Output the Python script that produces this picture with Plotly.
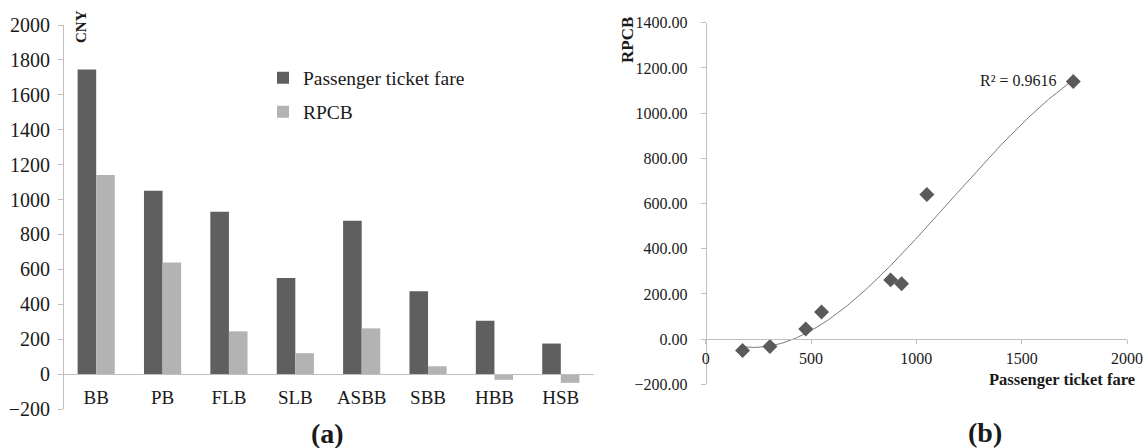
import numpy as np
import plotly.graph_objects as go

categories = ["BB", "PB", "FLB", "SLB", "ASBB", "SBB", "HBB", "HSB"]
fare = [1745, 1050, 930, 550, 878, 475, 305, 175]
rpcb = [1140, 640, 245, 120, 262, 45, -33, -50]
left_ticks = list(range(-200, 2001, 200))
right_yticks = list(range(-200, 1401, 200))
right_xticks = [0, 500, 1000, 1500, 2000]
r2_label = "R² = 0.9616"

W, H = 1148, 448
FONT = "Liberation Serif, Times New Roman, serif"
DARK = "#5f5f5f"
LIGHT = "#b3b3b3"
AX = "#bfbfbf"
TXT = "#1a1a1a"

def px_x(p):
    return p / W

def px_y(p):
    return 1 - p / H

fig = go.Figure()

fig.add_trace(go.Bar(x=categories, y=fare, name="Passenger ticket fare",
                     marker=dict(color=DARK, line=dict(width=0)),
                     xaxis="x", yaxis="y", legend="legend"))
fig.add_trace(go.Bar(x=categories, y=rpcb, name="RPCB",
                     marker=dict(color=LIGHT, line=dict(width=0)),
                     xaxis="x", yaxis="y", legend="legend2"))

# third-order polynomial trendline fitted to the data (as in the source chart)
coef = np.polyfit(fare, rpcb, 3)
xs = np.linspace(min(fare), max(fare), 200)
ys = np.polyval(coef, xs)
fig.add_trace(go.Scatter(x=xs, y=ys, mode="lines", line=dict(color="#7a7a7a", width=1),
                         xaxis="x2", yaxis="y2", showlegend=False))
fig.add_trace(go.Scatter(x=fare, y=rpcb, mode="markers",
                         marker=dict(symbol="diamond", size=11.5, color="#5a5a5a"),
                         xaxis="x2", yaxis="y2", showlegend=False))

y1_dom = [px_y(409), px_y(25)]
y1_zero = y1_dom[0] + (200 / 2200) * (y1_dom[1] - y1_dom[0])
y2_dom = [px_y(384.3), px_y(22.7)]
y2_zero = y2_dom[0] + (200 / 1600) * (y2_dom[1] - y2_dom[0])

fig.update_layout(
    width=W, height=H,
    margin=dict(l=0, r=0, t=0, b=0, autoexpand=False),
    paper_bgcolor="white", plot_bgcolor="white",
    font=dict(family=FONT, color=TXT),
    barmode="group", bargap=0.44, bargroupgap=0,
    xaxis=dict(domain=[px_x(63), px_x(594)], anchor="free", position=y1_zero,
               range=[-0.5, 7.5], showline=True, linecolor=AX, linewidth=1,
               ticks="", tickfont=dict(size=19, family=FONT, color=TXT),
               ticklabelstandoff=6, showgrid=False, zeroline=False, automargin=False),
    yaxis=dict(domain=y1_dom, anchor="free", position=px_x(63),
               range=[-200, 2000], tickvals=left_ticks, showline=True,
               linecolor=AX, linewidth=1, ticks="outside", ticklen=5, tickcolor=AX,
               tickfont=dict(size=20, family=FONT, color=TXT), showgrid=False,
               zeroline=False, ticklabelstandoff=4, automargin=False),
    xaxis2=dict(domain=[px_x(705.7), px_x(1127)], anchor="free", position=y2_zero,
                range=[0, 2000], tickvals=right_xticks, showline=True, linecolor=AX,
                linewidth=1, ticks="outside", ticklen=4, tickcolor=AX,
                tickfont=dict(size=16, family=FONT, color=TXT), showgrid=False,
                zeroline=False, ticklabelstandoff=1, automargin=False),
    yaxis2=dict(domain=y2_dom, anchor="free", position=px_x(705.7),
                range=[-200, 1400], tickvals=right_yticks, tickformat=".2f",
                showline=True, linecolor=AX, linewidth=1, ticks="outside", ticklen=5,
                tickcolor=AX, tickfont=dict(size=16, family=FONT, color=TXT),
                showgrid=False, zeroline=False, ticklabelstandoff=10, automargin=False),
    legend=dict(x=px_x(263), y=px_y(78), xanchor="left", yanchor="middle",
                bgcolor="rgba(0,0,0,0)", font=dict(size=19.5, family=FONT, color=TXT)),
    legend2=dict(x=px_x(263), y=px_y(112), xanchor="left", yanchor="middle",
                 bgcolor="rgba(0,0,0,0)", font=dict(size=19.5, family=FONT, color=TXT)),
)

annos = [
    dict(text="<b>CNY</b>", x=px_x(81), y=px_y(27), textangle=-90, font=dict(size=15)),
    dict(text="<b>(a)</b>", x=px_x(327), y=px_y(433), font=dict(size=28)),
    dict(text="<b>(b)</b>", x=px_x(985), y=px_y(432), font=dict(size=28)),
    dict(text="<b>RPCB</b>", x=px_x(627), y=px_y(40), textangle=-90, font=dict(size=17)),
    dict(text="<b>Passenger ticket fare</b>", x=px_x(1137), y=px_y(379), xanchor="right",
         font=dict(size=16.5)),
    dict(text=r2_label, x=px_x(1059), y=px_y(81), xanchor="right", font=dict(size=16)),
]
for a in annos:
    a.setdefault("xanchor", "center")
    fig.add_annotation(xref="paper", yref="paper", showarrow=False, yanchor="middle",
                       font_family=FONT, font_color=TXT, **a)

fig.write_html("out.html")
